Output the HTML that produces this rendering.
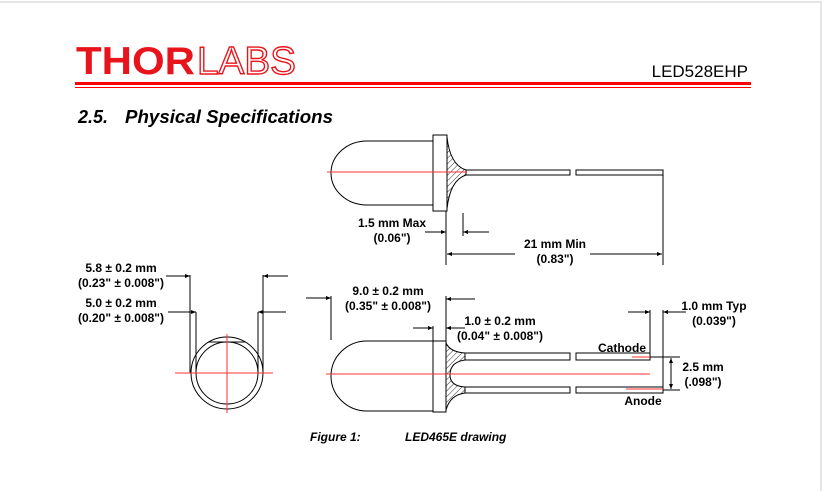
<!DOCTYPE html>
<html><head><meta charset="utf-8"><style>
html,body{margin:0;padding:0;background:#fff;}
svg{display:block;font-family:"Liberation Sans",Arial,sans-serif;}
</style></head><body>
<svg width="824" height="491" viewBox="0 0 824 491" xmlns="http://www.w3.org/2000/svg">
<defs>
<pattern id="h" width="4" height="4" patternUnits="userSpaceOnUse" patternTransform="rotate(45)"><line x1="0" y1="0" x2="0" y2="4" stroke="#000" stroke-width="0.8"/></pattern>
<marker id="a" viewBox="0 0 10 10" refX="10" refY="5" markerWidth="7" markerHeight="5" orient="auto-start-reverse"><path d="M0,1 L10,5 L0,9z" fill="#000"/></marker>
</defs>
<rect x="0" y="0" width="824" height="491" fill="#fff"/>
<line x1="0" y1="2" x2="822" y2="2" stroke="#ddd" stroke-width="1.5"/>
<line x1="821" y1="2" x2="821" y2="491" stroke="#ddd" stroke-width="1.5"/>
<!-- header -->
<text x="76" y="74" font-size="39" font-weight="bold" fill="#e8141c" textLength="119" lengthAdjust="spacingAndGlyphs">THOR</text>
<text x="197" y="74" font-size="39" fill="#fff" stroke="#e8141c" stroke-width="1.4" textLength="99" lengthAdjust="spacingAndGlyphs">LABS</text>
<text x="748" y="77" font-size="17" text-anchor="end" fill="#000">LED528EHP</text>
<rect x="75" y="82" width="676" height="3" fill="#f00"/>
<rect x="75" y="87" width="676" height="1" fill="#f00"/>
<text x="78" y="123" font-size="18" font-weight="bold" font-style="italic">2.5.</text>
<text x="125" y="123" font-size="18" font-weight="bold" font-style="italic" textLength="208" lengthAdjust="spacingAndGlyphs">Physical Specifications</text>

<g fill="none" stroke="#000" stroke-width="1">
<!-- top LED -->
<path d="M433,141 H367 A36,32 0 0 0 367,205 H433"/>
<rect x="433" y="135" width="14" height="76" fill="#fff"/>
<path d="M447,137 Q450,165 466,170 V175 Q450,180 447,209 Z" fill="url(#h)"/>
<rect x="466" y="170" width="104" height="5"/>
<rect x="576" y="170" width="87" height="5"/>
<line x1="663" y1="175" x2="663" y2="265"/>
<line x1="446" y1="211" x2="446" y2="265"/>
<line x1="463" y1="213" x2="463" y2="236"/>
<line x1="425" y1="232" x2="446" y2="232" marker-end="url(#a)"/>
<line x1="489" y1="232" x2="463" y2="232" marker-end="url(#a)"/>
<line x1="447" y1="254" x2="515" y2="254" marker-start="url(#a)"/>
<line x1="590" y1="254" x2="662" y2="254" marker-end="url(#a)"/>

<!-- circle view -->
<circle cx="227" cy="373" r="36"/>
<circle cx="227" cy="373" r="31"/>
<line x1="208" y1="342" x2="246" y2="342"/>
<line x1="190" y1="275" x2="190" y2="373"/>
<line x1="263" y1="275" x2="263" y2="373"/>
<line x1="196" y1="312" x2="196" y2="373"/>
<line x1="258" y1="312" x2="258" y2="373"/>
<line x1="166" y1="276" x2="190" y2="276" marker-end="url(#a)"/>
<line x1="288" y1="276" x2="263" y2="276" marker-end="url(#a)"/>
<line x1="168" y1="312" x2="196" y2="312" marker-end="url(#a)"/>
<line x1="286" y1="312" x2="258" y2="312" marker-end="url(#a)"/>

<!-- bottom LED -->
<path d="M433,341 H367 A36,35 0 0 0 367,411 H433"/>
<rect x="433" y="341" width="13" height="71" fill="#fff"/>
<path d="M446,343 Q450,352 465,353 V360 Q450,362 450,375 Q450,386 465,387 V393 Q450,395 446,410 Z" fill="url(#h)"/>
<rect x="465" y="353" width="105" height="7"/>
<rect x="576" y="353" width="74" height="7"/>
<rect x="465" y="387" width="105" height="6"/>
<rect x="576" y="387" width="87" height="6"/>
<line x1="331" y1="296" x2="331" y2="340"/>
<line x1="446" y1="296" x2="446" y2="341"/>
<line x1="433" y1="326" x2="433" y2="341"/>
<line x1="306" y1="298" x2="331" y2="298" marker-end="url(#a)"/>
<line x1="475" y1="299" x2="446" y2="299" marker-end="url(#a)"/>
<line x1="413" y1="328" x2="433" y2="328" marker-end="url(#a)"/>
<line x1="465" y1="328" x2="446" y2="328" marker-end="url(#a)"/>
<line x1="650" y1="310" x2="650" y2="353"/>
<line x1="663" y1="310" x2="663" y2="387"/>
<line x1="628" y1="312" x2="650" y2="312" marker-end="url(#a)"/>
<line x1="686" y1="312" x2="663" y2="312" marker-end="url(#a)"/>
<line x1="650" y1="357" x2="680" y2="357"/>
<line x1="663" y1="390" x2="680" y2="390"/>
<line x1="671" y1="358" x2="671" y2="389" marker-start="url(#a)" marker-end="url(#a)"/>
</g>

<g stroke="#f33" stroke-width="1">
<line x1="327" y1="172" x2="467" y2="172"/>
<line x1="175" y1="373" x2="273" y2="373"/>
<line x1="227" y1="334" x2="227" y2="413"/>
<line x1="326" y1="374" x2="650" y2="374"/>
<line x1="632" y1="357" x2="650" y2="357"/>
<line x1="626" y1="389" x2="663" y2="389"/>
</g>

<g font-size="12" font-weight="bold" text-anchor="middle">
<text x="392" y="227">1.5 mm Max</text>
<text x="392" y="242">(0.06")</text>
<text x="555" y="248">21 mm Min</text>
<text x="555" y="263">(0.83")</text>
<text x="121" y="272">5.8 ± 0.2 mm</text>
<text x="121" y="287">(0.23" ± 0.008")</text>
<text x="121" y="307">5.0 ± 0.2 mm</text>
<text x="121" y="322">(0.20" ± 0.008")</text>
<text x="388" y="295">9.0 ± 0.2 mm</text>
<text x="388" y="310">(0.35" ± 0.008")</text>
<text x="500" y="325">1.0  ± 0.2 mm</text>
<text x="500" y="340">(0.04" ± 0.008")</text>
<text x="714" y="310">1.0 mm Typ</text>
<text x="714" y="325">(0.039")</text>
<text x="622" y="352">Cathode</text>
<text x="643" y="405">Anode</text>
<text x="703" y="371">2.5 mm</text>
<text x="703" y="386">(.098")</text>
</g>
<text x="310" y="441" font-size="12" font-weight="bold" font-style="italic">Figure 1:</text>
<text x="405" y="441" font-size="12" font-weight="bold" font-style="italic">LED465E drawing</text>
</svg>
</body></html>
